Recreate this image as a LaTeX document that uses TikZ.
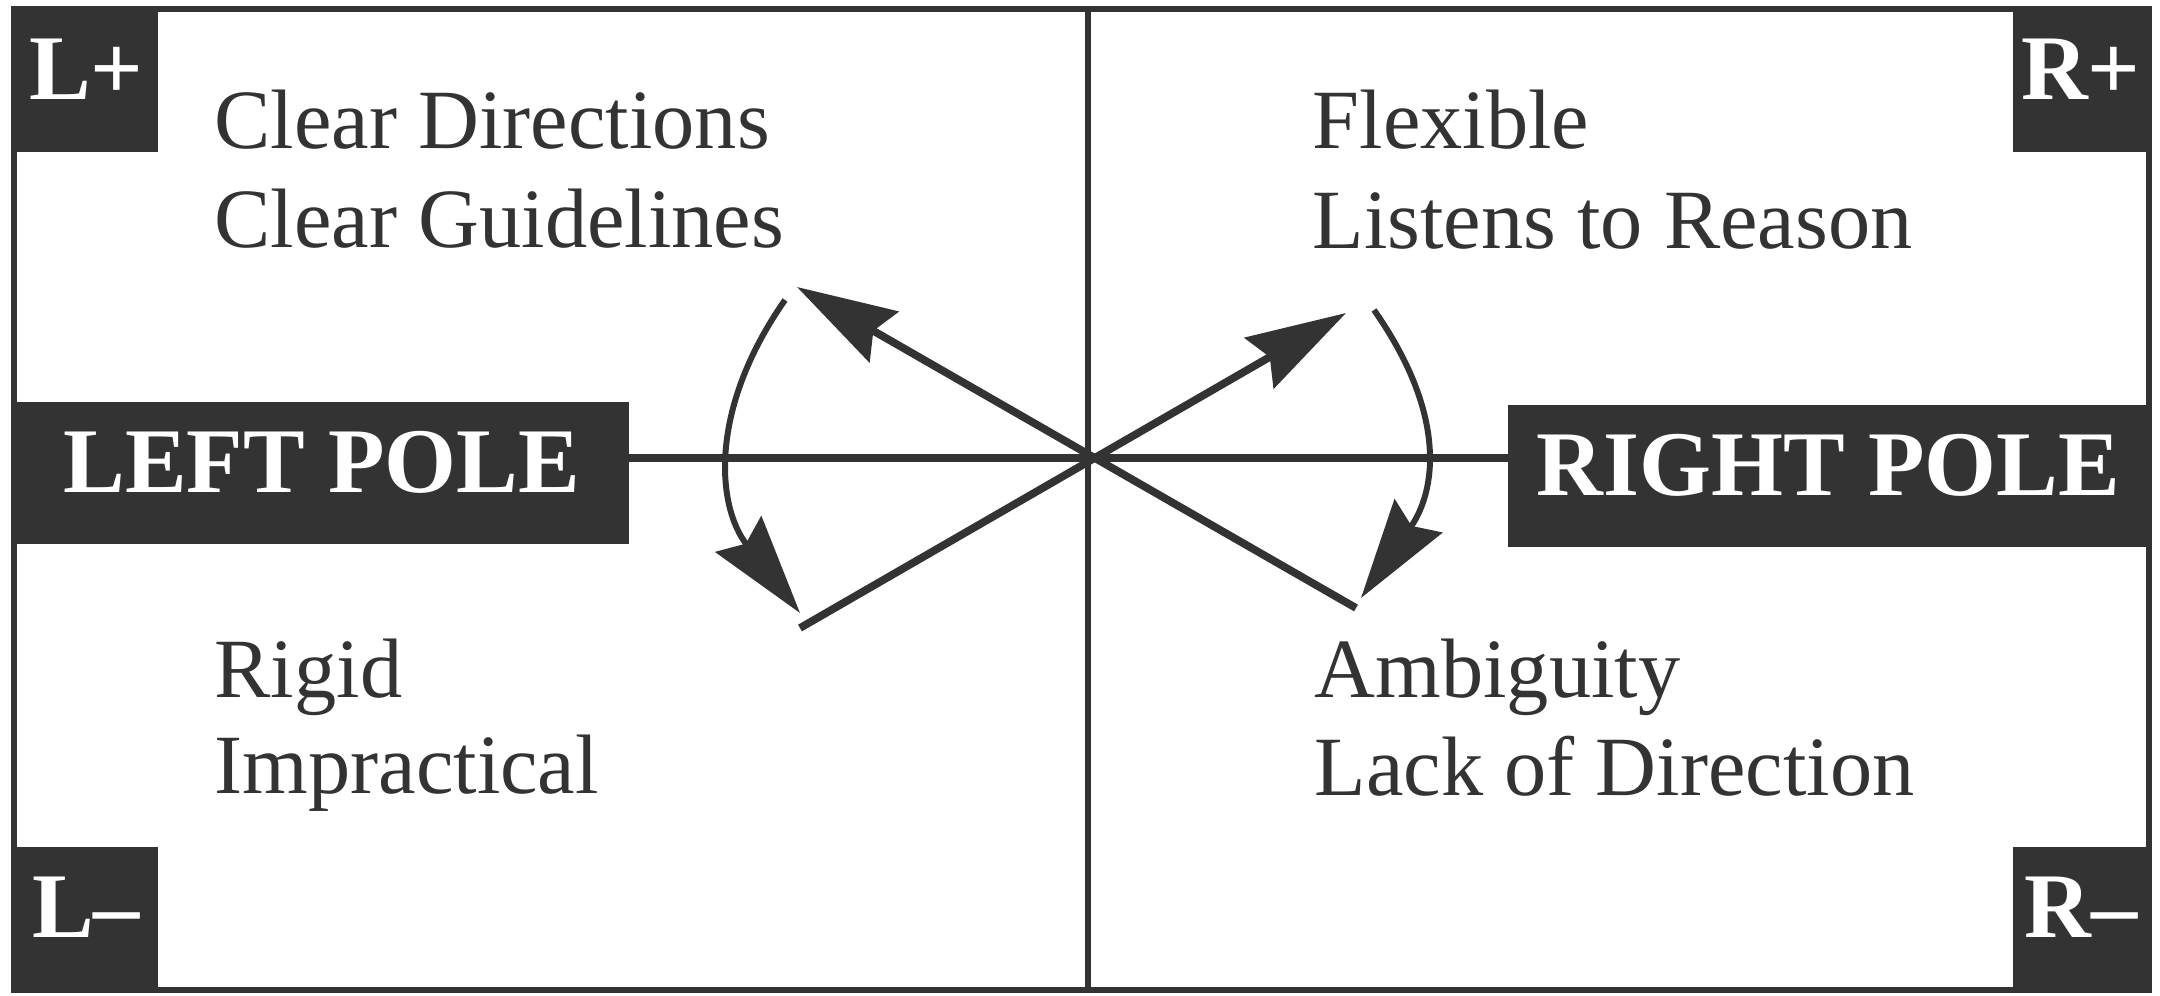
\documentclass[tikz,border=0pt]{standalone}
\usepackage{fontspec}
\setmainfont{Liberation Serif}
\usetikzlibrary{arrows.meta}
\definecolor{ink}{HTML}{333333}
\tikzset{
  polebox/.style={fill=ink,text=white,inner xsep=0pt,inner ysep=0pt,
    text height=0.9cm,text depth=0.52cm,
    font=\bfseries\fontsize{26.3}{30}\selectfont},
  quality/.style={anchor=base west,inner sep=0pt,text=ink,
    font=\fontsize{24}{28}\selectfont},
  swing/.style={ink,line width=1.7pt,
    -{Stealth[length=1cm,width=0.58cm,inset=0.12cm]}},
}

\begin{document}
\begin{tikzpicture}
\useasboundingbox (0,0) rectangle (21.6,9.95);
\coordinate (sw) at (0.14,0.05);
\coordinate (ne) at (21.49,9.86);
\coordinate (c) at (10.88,5.37);
\draw[ink,line width=1.8pt] (sw) rectangle (ne);
\draw[ink,line width=1.6pt] (c |- ne) -- (c |- sw);

% corners
\node[polebox,minimum width=1.43cm,anchor=north west] (lplus) at (sw |- ne) {L+};
\node[polebox,minimum width=1.35cm,anchor=north east] (rplus) at (ne) {R+};
\node[polebox,minimum width=1.43cm,anchor=south west] (lminus) at (sw) {L--};
\node[polebox,minimum width=1.35cm,anchor=south east] (rminus) at (ne |- sw) {R--};

% poles
\node[polebox,minimum width=6.14cm,anchor=base west] (lp) at (0.14,5.03) {LEFT POLE};
\node[polebox,minimum width=6.40cm,anchor=base east] (rp) at (21.49,5.00) {RIGHT POLE};
\draw[ink,line width=2.3pt] (lp.east |- c) -- (rp.west |- c);

% qualities
\node[quality] (cdir) at (2.14,8.47) {Clear Directions};
\node[quality] (cgui) at (2.14,7.48) {Clear Guidelines};
\node[quality] (flex) at (13.12,8.47) {Flexible};
\node[quality] (lrea) at (13.12,7.47) {Listens to Reason};
\node[quality] (rigi) at (2.14,2.98) {Rigid};
\node[quality] (impr) at (2.14,2.02) {Impractical};
\node[quality] (ambi) at (13.14,2.98) {Ambiguity};
\node[quality] (lack) at (13.14,2.00) {Lack of Direction};

% arrows
\coordinate (a1) at (7.97,7.08);
\coordinate (e1) at (8.00,3.67);
\coordinate (a2) at (13.46,6.82);
\coordinate (e2) at (13.56,3.87);
\foreach \from/\to in {e1/a2,e2/a1}
\draw[swing,line width=2.2pt] (\from) -- (\to);
\coordinate (lt) at (7.85,6.95);
\coordinate (lb) at (8.00,3.82);
\coordinate (rt) at (13.74,6.85);
\coordinate (rb) at (13.61,3.97);
\draw[swing] (lt) to[out=235,in=128,looseness=1.1] (lb);
\draw[swing] (rt) to[out=305,in=55,looseness=1.15] (rb);
\end{tikzpicture}
\end{document}
